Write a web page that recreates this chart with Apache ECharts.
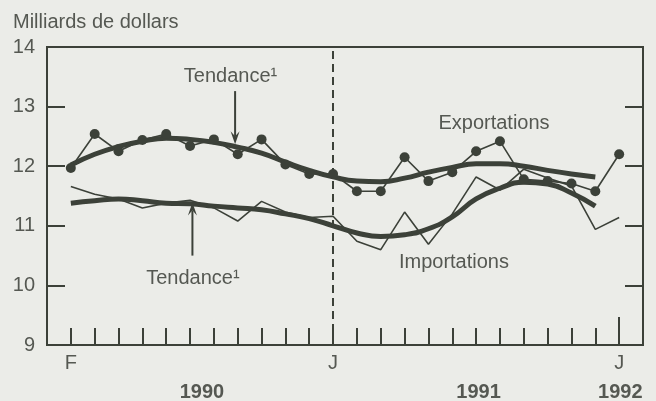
<!DOCTYPE html>
<html>
<head>
<meta charset="utf-8">
<script src="https://cdn.jsdelivr.net/npm/echarts@6/dist/echarts.min.js"></script>
<style>
  html, body { margin: 0; padding: 0; background: #ebece8; }
  #chart { width: 656px; height: 401px; }
</style>
</head>
<body>
<div id="chart"></div>
<script>
// Months counted from January 1990 (1 = February 1990, 24 = January 1992)
const months = [1, 2, 3, 4, 5, 6, 7, 8, 9, 10, 11, 12, 13, 14, 15, 16, 17, 18, 19, 20, 21, 22, 23, 24];
const trendMonths = [1, 2, 3, 4, 5, 6, 7, 8, 9, 10, 11, 12, 13, 14, 15, 16, 17, 18, 19, 20, 21, 22, 23];

// Monthly values, billions of dollars
const exportsValues = [11.97, 12.54, 12.25, 12.44, 12.54, 12.34, 12.45, 12.2, 12.45, 12.03, 11.87, 11.87,
                       11.58, 11.58, 12.15, 11.75, 11.9, 12.25, 12.42, 11.78, 11.75, 11.71, 11.58, 12.2];
const importsValues = [11.66, 11.53, 11.45, 11.3, 11.38, 11.43, 11.3, 11.08, 11.41, 11.23, 11.14, 11.16,
                       10.74, 10.6, 11.23, 10.69, 11.2, 11.82, 11.6, 11.95, 11.8, 11.67, 10.94, 11.14];

// Trend (smoothed) values
const exportsTrend = [12.02, 12.2, 12.33, 12.42, 12.47, 12.45, 12.4, 12.32, 12.22, 12.07, 11.93, 11.82,
                      11.75, 11.74, 11.8, 11.9, 11.98, 12.04, 12.04, 12.0, 11.93, 11.87, 11.82];
const importsTrend = [11.38, 11.42, 11.45, 11.42, 11.38, 11.37, 11.33, 11.3, 11.27, 11.2, 11.12, 11.0,
                      10.88, 10.82, 10.85, 10.95, 11.15, 11.45, 11.63, 11.73, 11.7, 11.55, 11.33];

// Month tick labels and years
const monthTickAt = [1, 12, 24];
const monthTickNames = ['F', 'J', 'J'];
const years = ['1990', '1991', '1992'];
const yearCentres = [6.5, 18.1, 24.05];

const yTicks = [9, 10, 11, 12, 13, 14];

const INK = '#3c4139';
const TEXT = '#555852';
const FONT = '"Liberation Sans", Arial, sans-serif';

const pairs = (xs, ys) => xs.map((x, i) => [x, ys[i]]);

const chart = echarts.init(document.getElementById('chart'), null, { renderer: 'canvas' });

const option = {
  backgroundColor: '#ebece8',
  animation: false,
  title: {
    text: 'Milliards de dollars',
    left: 8, top: 7,
    textStyle: { fontFamily: FONT, fontSize: 20, fontWeight: 'normal', color: TEXT }
  },
  grid: {
    left: 47, right: 13, top: 47, bottom: 56,
    show: true, borderColor: INK, borderWidth: 2, backgroundColor: 'transparent'
  },
  xAxis: {
    type: 'value', min: 0, max: 25, interval: 1,
    axisLine: { show: true, lineStyle: { color: INK, width: 2 } },
    axisTick: { show: true, inside: true, length: 17, lineStyle: { color: INK, width: 2 } },
    splitLine: { show: false },
    axisLabel: {
      margin: 8, color: TEXT, fontFamily: FONT, fontSize: 20,
      formatter: v => { const k = monthTickAt.indexOf(v); return k >= 0 ? monthTickNames[k] : ''; }
    }
  },
  yAxis: [
    {
      type: 'value', min: yTicks[0], max: yTicks[yTicks.length - 1], interval: 1,
      axisLine: { show: true, lineStyle: { color: INK, width: 2 } },
      axisTick: { show: true, inside: true, length: 18, lineStyle: { color: INK, width: 2 } },
      splitLine: { show: false },
      axisLabel: { margin: 12, color: TEXT, fontFamily: FONT, fontSize: 20 }
    },
    {
      type: 'value', position: 'right', min: yTicks[0], max: yTicks[yTicks.length - 1], interval: 1,
      axisLine: { show: true, lineStyle: { color: INK, width: 2 } },
      axisTick: { show: true, inside: true, length: 18, lineStyle: { color: INK, width: 2 } },
      splitLine: { show: false },
      axisLabel: { show: false }
    }
  ],
  series: [
    {
      name: 'Importations',
      type: 'line',
      data: pairs(months, importsValues),
      symbol: 'none',
      lineStyle: { color: INK, width: 1.6 },
      z: 2,
      markLine: {
        silent: true, symbol: 'none', label: { show: false },
        data: [
          // January 1991 divider
          [{ coord: [12, 9] }, { coord: [12, 14] }],
        ],
        lineStyle: { color: INK, width: 2, type: [8, 5] }
      }
    },
    {
      name: 'Tendance importations',
      type: 'line',
      data: pairs(trendMonths, importsTrend),
      smooth: 0.5,
      symbol: 'none',
      lineStyle: { color: INK, width: 5 },
      z: 3,
      markLine: {
        silent: true, symbol: 'none', label: { show: false },
        data: [
          // longer tick for January 1992
          [{ coord: [24, 9] }, { coord: [24, 9.47] }]
        ],
        lineStyle: { color: INK, width: 2, type: 'solid' }
      }
    },
    {
      name: 'Tendance exportations',
      type: 'line',
      data: pairs(trendMonths, exportsTrend),
      smooth: 0.5,
      symbol: 'none',
      lineStyle: { color: INK, width: 5 },
      z: 3
    },
    {
      name: 'Exportations',
      type: 'line',
      data: pairs(months, exportsValues),
      symbol: 'circle',
      symbolSize: 10,
      itemStyle: { color: INK },
      lineStyle: { color: INK, width: 1.6 },
      z: 4
    }
  ]
};

chart.setOption(option);

// Annotations placed in data coordinates
const px = (x, y) => chart.convertToPixel({ gridIndex: 0 }, [x, y]);
const gridBottom = px(0, 9)[1];

function label(text, x, y, bold) {
  const p = px(x, y);
  return {
    type: 'text', z: 10,
    style: {
      text: text, x: p[0], y: p[1], fill: TEXT,
      font: (bold ? 'bold ' : '') + '20px ' + FONT,
      align: 'center', verticalAlign: 'middle'
    }
  };
}

function arrow(x, yFrom, yTo) {
  const a = px(x, yFrom), b = px(x, yTo);
  const dir = Math.sign(b[1] - a[1]);
  const headLen = 13, half = 4.5;
  return [
    {
      type: 'line', z: 10,
      shape: { x1: a[0], y1: a[1], x2: b[0], y2: b[1] - dir * headLen * 0.6 },
      style: { stroke: INK, lineWidth: 2 }
    },
    {
      type: 'polygon', z: 10,
      shape: {
        points: [
          [b[0], b[1]],
          [b[0] - half, b[1] - dir * headLen],
          [b[0], b[1] - dir * headLen * 0.6],
          [b[0] + half, b[1] - dir * headLen]
        ]
      },
      style: { fill: INK }
    }
  ];
}

const graphics = [
  label('Tendance¹', 7.7, 13.51),
  label('Tendance¹', 6.12, 10.12),
  label('Exportations', 18.75, 12.72),
  label('Importations', 17.07, 10.38),
  ...arrow(7.89, 13.26, 12.37),
  ...arrow(6.1, 10.5, 11.39)
];

years.forEach((y, i) => {
  const p = px(yearCentres[i], 9);
  graphics.push({
    type: 'text', z: 10,
    style: {
      text: y, x: p[0], y: gridBottom + 47, fill: TEXT,
      font: 'bold 20px ' + FONT, align: 'center', verticalAlign: 'middle'
    }
  });
});

chart.setOption({ graphic: graphics });
</script>
</body>
</html>
